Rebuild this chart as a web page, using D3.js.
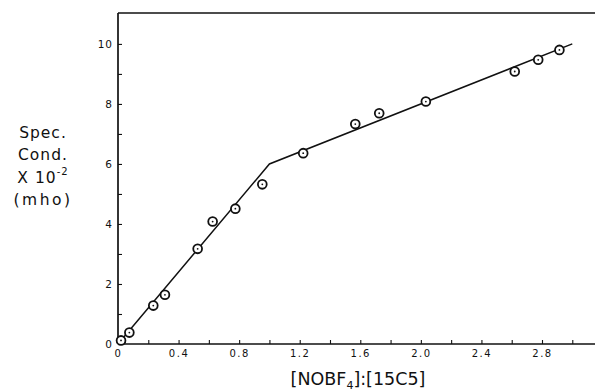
<!DOCTYPE html>
<html><head><meta charset="utf-8">
<script src="https://cdn.jsdelivr.net/npm/d3@7/dist/d3.min.js"></script>
<style>body{margin:0;background:#fff}svg{display:block}</style>
</head><body><svg id="c" width="595" height="392"></svg>
<script>
// data
const ratio = [0.02, 0.075, 0.233, 0.31, 0.526, 0.625, 0.775, 0.953, 1.223, 1.567, 1.725, 2.033, 2.62, 2.775, 2.915];
const cond  = [0.12, 0.38, 1.28, 1.64, 3.17, 4.08, 4.51, 5.32, 6.36, 7.33, 7.69, 8.08, 9.08, 9.47, 9.80];
const fitX = [0, 1.0, 3.0];
const fitY = [0, 6.0, 10.0];
const xTickValues = [0, 0.4, 0.8, 1.2, 1.6, 2.0, 2.4, 2.8];
const xTickLabels = ["0", "0.4", "0.8", "1.2", "1.6", "2.0", "2.4", "2.8"];
const yTickValues = [0, 2, 4, 6, 8, 10];
const yLabelLines = ["Spec.", "Cond.", "X 10", "(mho)"];

const svg = d3.select("#c");
const x = d3.scaleLinear().domain([0, 3.15]).range([118, 595]);
const y = d3.scaleLinear().domain([0, 11.03]).range([344, 13]);
const ink = "#111";

// frame line on top
svg.append("line").attr("x1", x(0)).attr("x2", 595).attr("y1", y(11.03)).attr("y2", y(11.03)).attr("stroke", ink).attr("stroke-width", 1.7);

// x axis
const xa = svg.append("g").attr("transform", `translate(0,${y(0)})`)
  .call(d3.axisBottom(x).tickValues(d3.range(0, 3.1, 0.2)).tickSize(-4).tickFormat(""));
xa.select(".domain").attr("stroke", ink).attr("stroke-width", 1.7).attr("d", `M${x(0)},0H595`);
xa.selectAll(".tick line").attr("stroke", ink).attr("stroke-width", 1.1);
const xl = svg.append("g").attr("transform", `translate(0,${y(0)})`)
  .call(d3.axisBottom(x).tickValues(xTickValues).tickSize(0).tickPadding(6).tickFormat((d, i) => xTickLabels[i]));
xl.select(".domain").remove();
xl.selectAll("text").attr("font-family", "DejaVu Sans").attr("font-size", 10).attr("fill", ink).attr("letter-spacing", 1.5);

// y axis
const ya = svg.append("g").attr("transform", `translate(${x(0)},0)`)
  .call(d3.axisLeft(y).tickValues(d3.range(0, 11, 1)).tickSize(-4).tickFormat(""));
ya.select(".domain").attr("stroke", ink).attr("stroke-width", 1.7).attr("d", `M0,${y(11.03)}V${y(0)}`);
ya.selectAll(".tick line").attr("stroke", ink).attr("stroke-width", 1.1);
const yl = svg.append("g").attr("transform", `translate(${x(0)},0)`)
  .call(d3.axisLeft(y).tickValues(yTickValues).tickSize(0).tickPadding(5));
yl.select(".domain").remove();
yl.selectAll("text").attr("font-family", "DejaVu Sans").attr("font-size", 10.5).attr("fill", ink).attr("letter-spacing", 1);

// fit line
svg.append("path").datum(fitX.map((d, i) => [d, fitY[i]]))
  .attr("d", d3.line().x(d => x(d[0])).y(d => y(d[1])))
  .attr("fill", "none").attr("stroke", ink).attr("stroke-width", 1.5);

// points
const pts = svg.append("g").selectAll("g").data(ratio.map((d, i) => [d, cond[i]])).join("g")
  .attr("transform", d => `translate(${x(d[0])},${y(d[1])})`);
pts.append("circle").attr("r", 4.4).attr("fill", "#fff").attr("stroke", ink).attr("stroke-width", 1.8);
pts.append("circle").attr("r", 0.9).attr("fill", ink);

// axis titles
const xt = svg.append("text").attr("x", 358).attr("y", 385).attr("text-anchor", "middle")
  .attr("font-family", "DejaVu Sans").attr("font-size", 17.5).attr("fill", ink);
xt.append("tspan").text("[NOBF");
xt.append("tspan").attr("font-size", 11).attr("dy", 4).text("4");
xt.append("tspan").attr("dy", -4).text("]:[15C5]");

const yt = svg.append("g").attr("font-family", "DejaVu Sans").attr("font-size", 15.5).attr("fill", ink).attr("text-anchor", "middle");
const lineY = [138, 160, 183, 205];
yLabelLines.forEach((s, i) => {
  const t = yt.append("text").attr("x", 43).attr("y", lineY[i]).attr("letter-spacing", i === 3 ? 2.5 : 1);
  t.append("tspan").text(s);
  if (s === "X 10") t.append("tspan").attr("font-size", 10).attr("dy", -8).text("-2");
});
</script></body></html>
